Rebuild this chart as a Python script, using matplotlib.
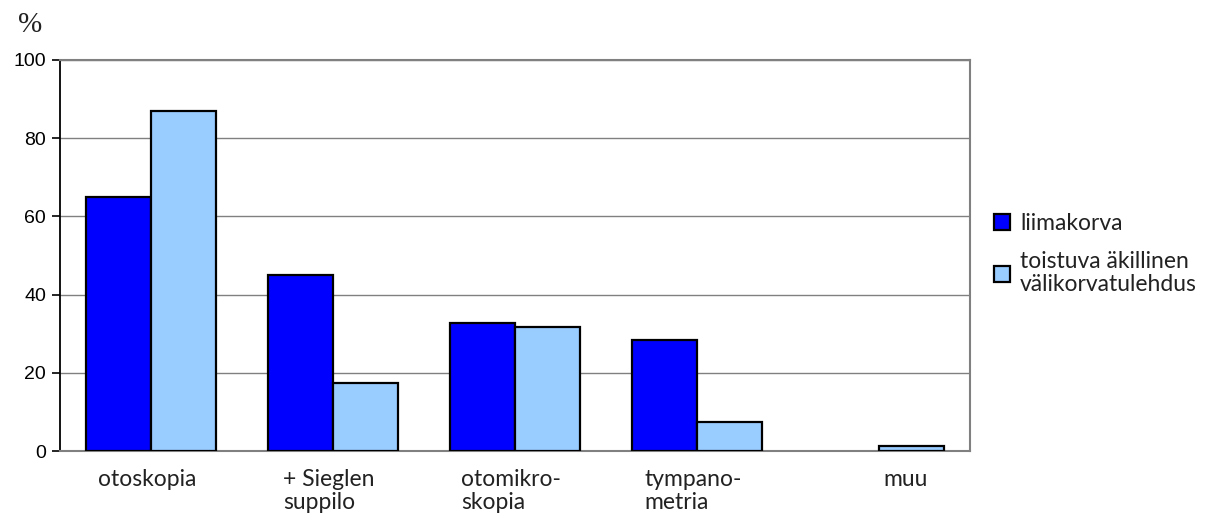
import numpy as np
import matplotlib
matplotlib.use('Agg')
import matplotlib.pyplot as plt
import matplotlib.transforms as mtransforms
from matplotlib.patches import Patch

categories = ['otoskopia', '+ Sieglen\nsuppilo', 'otomikro-\nskopia', 'tympano-\nmetria', 'muu']
liimakorva = [65, 45, 32.7, 28.3, 0]
toistuva = [87, 17.3, 31.7, 7.5, 1.4]
series_names = ['liimakorva', 'toistuva äkillinen\nvälikorvatulehdus']
y_ticks = [0, 20, 40, 60, 80, 100]

label_font = 'Lato'
num_font = 'Liberation Sans'

fig = plt.figure(figsize=(12.16, 5.2), dpi=100)
ax = fig.add_axes([60 / 1216, 69 / 520, 910 / 1216, 391 / 520])

x = np.arange(len(categories))
w = 0.357
# no outline for empty bars
lw1 = [1.6 if v > 0 else 0 for v in liimakorva]
lw2 = [1.6 if v > 0 else 0 for v in toistuva]
ax.bar(x - w / 2, liimakorva, w, color='#0000FF', edgecolor='black', linewidth=lw1, zorder=3)
ax.bar(x + w / 2, toistuva, w, color='#99CCFF', edgecolor='black', linewidth=lw2, zorder=3)

ax.set_xlim(-0.5, len(categories) - 0.5)
ax.set_ylim(0, 100)
ax.set_yticks(y_ticks)
ax.set_yticklabels([str(t) for t in y_ticks], fontname=num_font, fontsize=14)
ax.grid(axis='y', color='#808080', linewidth=1.0, zorder=0)

for side in ['top', 'right', 'bottom']:
    ax.spines[side].set_color('#808080')
    ax.spines[side].set_linewidth(1.5)
ax.spines['left'].set_color('black')
ax.spines['left'].set_linewidth(1.3)
ax.tick_params(axis='y', direction='out', length=6, width=1.2, pad=4)

ax.set_xticks(x)
ax.set_xticklabels(categories, fontname=label_font, fontsize=16.5,
                   ha='center', multialignment='left', linespacing=1.1, color='#222222')
ax.tick_params(axis='x', length=0, pad=13)

# labels sit slightly left of the bar groups, "muu" to the right
for i, lbl in enumerate(ax.get_xticklabels()):
    dx = 0.27 if i == len(categories) - 1 else -0.04
    lbl.set_transform(lbl.get_transform() + mtransforms.ScaledTranslation(dx, 0, fig.dpi_scale_trans))

fig.text(18 / 1216, 1 - 32 / 520, '%', fontname='Liberation Serif', fontsize=21, color='#222222')

handles = [Patch(facecolor='#0000FF', edgecolor='black', linewidth=1.6),
           Patch(facecolor='#99CCFF', edgecolor='black', linewidth=1.6)]
leg = fig.legend(handles, series_names, loc='upper left', bbox_to_anchor=(973 / 1216, 1 - 192 / 520),
                 frameon=False, handlelength=0.7, handleheight=0.7, handletextpad=0.45,
                 labelspacing=0.75, prop={'family': label_font, 'size': 16.5})
for t in leg.get_texts():
    t.set_color('#222222')
    t.set_linespacing(1.15)

fig.savefig('out.png', dpi=100)
